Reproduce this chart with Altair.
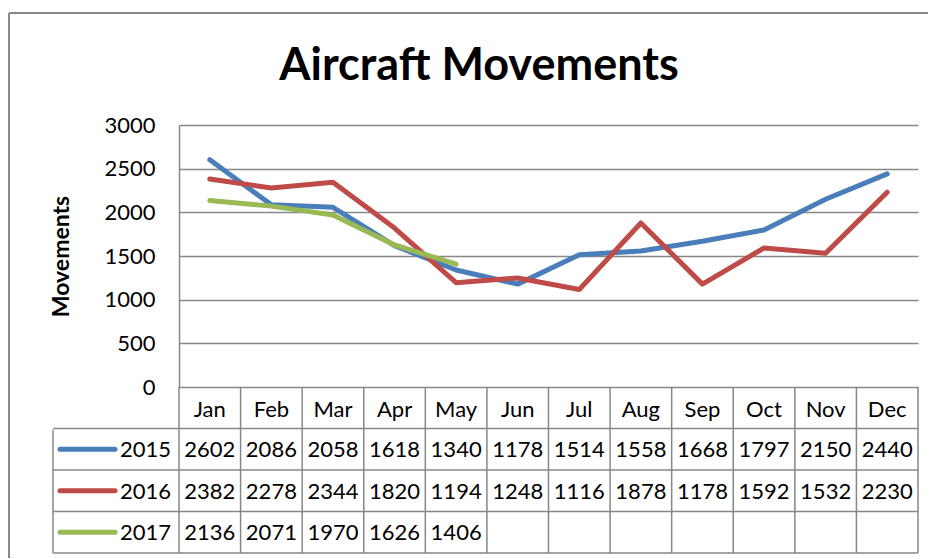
import altair as alt
import pandas as pd

months = ["Jan", "Feb", "Mar", "Apr", "May", "Jun", "Jul", "Aug", "Sep", "Oct", "Nov", "Dec"]
years = ["2015", "2016", "2017"]
v2015 = [2602, 2086, 2058, 1618, 1340, 1178, 1514, 1558, 1668, 1797, 2150, 2440]
v2016 = [2382, 2278, 2344, 1820, 1194, 1248, 1116, 1878, 1178, 1592, 1532, 2230]
v2017 = [2136, 2071, 1970, 1626, 1406]
colors = ["#4A7EBB", "#BE4B48", "#98B954"]
y_ticks = [0, 500, 1000, 1500, 2000, 2500, 3000]
title_text = "Aircraft Movements"
y_title = "Movements"

FONT = "Lato"
GRID = "#878787"
W, H = 739, 428          # whole drawing area (plot + data table)
PLOT_H = 262             # height of the line plot part
rows = ["Month"] + years

records = []
for yr, vals in zip(years, [v2015, v2016, v2017]):
    for m, v in zip(months, vals):
        records.append({"year": yr, "month": m, "value": v, "row": yr})
df = pd.DataFrame(records)
df_months = pd.DataFrame({"month": months, "row": ["Month"] * len(months)})
df_years = pd.DataFrame({"year": years, "row": years})
df_one = pd.DataFrame({"a": [0]})

xscale = alt.Scale(domain=months, paddingInner=0, paddingOuter=0)
rowscale = alt.Scale(domain=rows, range=[PLOT_H, H], paddingInner=0, paddingOuter=0)
cscale = alt.Scale(domain=years, range=colors)

lines = alt.Chart(df).mark_line(strokeWidth=5, strokeCap="round", strokeJoin="round").encode(
    x=alt.X("month:N", sort=months, scale=xscale, bandPosition=0.5, axis=None),
    y=alt.Y("value:Q", scale=alt.Scale(domain=[0, 3000], range=[PLOT_H, 0], nice=False),
            axis=alt.Axis(values=y_ticks, format="d", grid=True, gridColor=GRID, gridWidth=1.5,
                          domainColor=GRID, domainWidth=1.5, ticks=False,
                          labelFont=FONT, labelFontSize=22, labelColor="black",
                          labelPadding=24, labelFlush=False,
                          title=y_title, titleFont=FONT, titleFontSize=23,
                          titleFontWeight="bold", titleColor="black",
                          titleAngle=-90, titleX=-118, titleY=PLOT_H / 2,
                          titleAlign="center", titleBaseline="middle")),
    color=alt.Color("year:N", scale=cscale, legend=None),
    order=alt.Order("month_idx:Q"),
).transform_calculate(month_idx="indexof(" + str(months) + ", datum.month)")

# table: month header labels
header = alt.Chart(df_months).mark_text(font=FONT, fontSize=22, color="black", dy=2).encode(
    x=alt.X("month:N", sort=months, scale=xscale, bandPosition=0.5, axis=None),
    y=alt.Y("row:N", scale=rowscale, bandPosition=0.5, axis=None),
    text="month:N",
)

cells = alt.Chart(df).mark_text(font=FONT, fontSize=22, color="black", dy=1).encode(
    x=alt.X("month:N", sort=months, scale=xscale, bandPosition=0.5, axis=None),
    y=alt.Y("row:N", scale=rowscale, bandPosition=0.5, axis=None),
    text=alt.Text("value:Q", format="d"),
)

# vertical table lines at month boundaries
vlines = alt.Chart(df_months).mark_rule(color=GRID, strokeWidth=1.5).encode(
    x=alt.X("month:N", sort=months, scale=xscale, bandPosition=0, axis=None),
    y=alt.value(PLOT_H), y2=alt.value(H),
)
vright = alt.Chart(df_one).mark_rule(color=GRID, strokeWidth=1.5).encode(
    x=alt.value(W), y=alt.value(PLOT_H), y2=alt.value(H),
)
vleft = alt.Chart(df_one).mark_rule(color=GRID, strokeWidth=1.5).encode(
    x=alt.value(-126), y=alt.value(PLOT_H + 43), y2=alt.value(H),
)
# horizontal table lines
hlines = alt.Chart(df_years).mark_rule(color=GRID, strokeWidth=1.5).encode(
    y=alt.Y("row:N", scale=rowscale, bandPosition=0, axis=None),
    x=alt.value(-126), x2=alt.value(W),
)
hbottom = alt.Chart(df_one).mark_rule(color=GRID, strokeWidth=1.5).encode(
    y=alt.value(H), x=alt.value(-126), x2=alt.value(W),
)

# legend keys inside the table
keys = alt.Chart(df_years).mark_rule(strokeWidth=5, strokeCap="round").encode(
    y=alt.Y("row:N", scale=rowscale, bandPosition=0.5, axis=None),
    x=alt.value(-119), x2=alt.value(-64),
    color=alt.Color("year:N", scale=cscale, legend=None),
)
keylabels = alt.Chart(df_years).mark_text(font=FONT, fontSize=22, color="black", align="right", dy=1).encode(
    y=alt.Y("row:N", scale=rowscale, bandPosition=0.5, axis=None),
    x=alt.value(-8),
    text="year:N",
)

# title and outer frame
title = alt.Chart(df_one).mark_text(font=FONT, fontSize=45, fontWeight="bold", color="black",
                                     align="center", baseline="alphabetic").encode(
    x=alt.value(300), y=alt.value(-45), text=alt.value(title_text),
)
frame_top = alt.Chart(df_one).mark_rule(color="#898989", strokeWidth=2).encode(
    x=alt.value(-170), x2=alt.value(770), y=alt.value(-112),
)
frame_left = alt.Chart(df_one).mark_rule(color="#898989", strokeWidth=2).encode(
    x=alt.value(-170), y=alt.value(-112), y2=alt.value(460),
)

chart = alt.layer(
    frame_top, frame_left, title,
    vlines, vright, vleft, hlines, hbottom,
    header, cells, keys, keylabels,
    lines,
).resolve_scale(y="independent").properties(
    width=W, height=H,
    autosize=alt.AutoSizeParams(type="none"),
    padding={"left": 171, "top": 117, "right": 10, "bottom": 5},
    background="white",
).configure_view(strokeWidth=0)

chart.save("out.html", embed_options={"renderer": "svg", "actions": False})
